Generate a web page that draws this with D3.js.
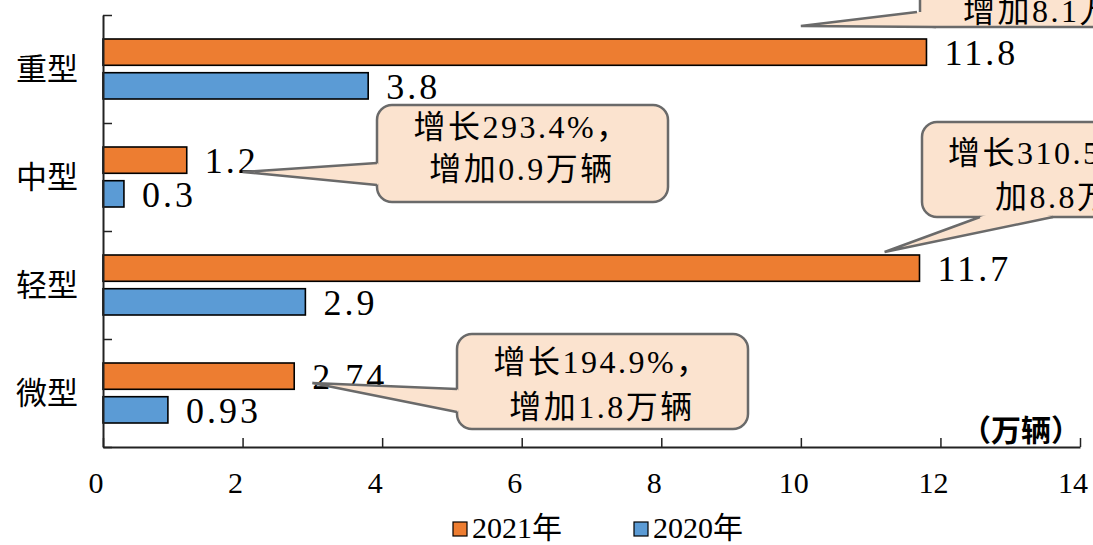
<!DOCTYPE html>
<html>
<head>
<meta charset="utf-8">
<script src="https://cdn.jsdelivr.net/npm/d3@7"></script>
<style>
  body { margin: 0; background: #fff; overflow: hidden; }
</style>
</head>
<body>
<div id="chart"></div>
<script>
// data
const categories = ["重型", "中型", "轻型", "微型"];
const seriesNames = ["2021年", "2020年"];
const values2021 = [11.8, 1.2, 11.7, 2.74];
const values2020 = [3.8, 0.3, 2.9, 0.93];
const labels2021 = ["11.8", "1.2", "11.7", "2.74"];
const labels2020 = ["3.8", "0.3", "2.9", "0.93"];
const xTicks = [0, 2, 4, 6, 8, 10, 12, 14];
const unitLabel = "（万辆）";
const calloutCats = ["重型", "中型", "轻型", "微型"];
const calloutLines = [
  ["增加8.1万辆"],
  ["增长293.4%，", "增加0.9万辆"],
  ["增长310.5%，增", "加8.8万辆"],
  ["增长194.9%，", "增加1.8万辆"]
];

const W = 1093, H = 545;
const colors = { "2021年": "#ED7D31", "2020年": "#5B9BD5" };
const numFont = "'Liberation Serif', 'Noto Sans CJK SC', serif";
const cjkFont = "'Noto Sans CJK SC', sans-serif";

const svg = d3.select("#chart").append("svg")
  .attr("width", W)
  .attr("height", H)
  .style("display", "block");

svg.append("rect").attr("width", W).attr("height", H).attr("fill", "#fff");

let x = d3.scaleLinear().domain([0, 14]).range([103, 1080]);
let y = d3.scaleBand().domain(categories).range([15, 447]);
let ySub = d3.scaleBand().domain(seriesNames).range([24, 84]).paddingInner(0.22);
let yEdge = d3.scaleLinear().domain([0, categories.length]).range([15, 447]);

const rows = categories.map((c, i) => ({
  cat: c,
  bars: [
    { s: "2021年", v: values2021[i], label: labels2021[i] },
    { s: "2020年", v: values2020[i], label: labels2020[i] }
  ]
}));

// bars
const g = svg.selectAll(".row")
  .data(rows)
  .enter().append("g")
  .attr("class", "row")
  .attr("transform", d => `translate(0,${y(d.cat)})`);

g.selectAll("rect")
  .data(d => d.bars)
  .enter().append("rect")
  .attr("x", x(0))
  .attr("y", d => ySub(d.s))
  .attr("width", d => x(d.v) - x(0))
  .attr("height", ySub.bandwidth())
  .attr("fill", d => colors[d.s])
  .attr("stroke", "#000")
  .attr("stroke-width", 1.6);

g.selectAll("text.val")
  .data(d => d.bars)
  .enter().append("text")
  .attr("class", "val")
  .attr("x", d => x(d.v) + 18)
  .attr("y", d => ySub(d.s) + ySub.bandwidth() / 2 + 13)
  .attr("font-family", numFont)
  .attr("font-size", 36)
  .attr("letter-spacing", 3)
  .attr("fill", "#000")
  .text(d => d.label);

// category labels
svg.selectAll(".cat")
  .data(categories)
  .enter().append("text")
  .attr("class", "cat")
  .attr("x", 47)
  .attr("y", d => y(d) + y.bandwidth() / 2 + 11)
  .attr("text-anchor", "middle")
  .attr("font-family", cjkFont)
  .attr("font-size", 31)
  .attr("fill", "#000")
  .text(d => d);

// y axis (ticks between categories, pointing inward)
const yAxis = d3.axisRight(yEdge).ticks(categories.length).tickSize(9).tickSizeOuter(0).tickFormat("");
const ya = svg.append("g")
  .attr("transform", `translate(${x(0)},0)`)
  .call(yAxis);
ya.select(".domain").attr("stroke", "#222").attr("stroke-width", 2);
ya.selectAll(".tick line").attr("stroke", "#222").attr("stroke-width", 1.5);

// x axis
const xAxis = d3.axisTop(x).tickValues(xTicks).tickSize(9).tickSizeOuter(0).tickFormat("");
const xa = svg.append("g")
  .attr("transform", `translate(0,${yEdge(categories.length)})`)
  .call(xAxis);
xa.select(".domain").attr("stroke", "#222").attr("stroke-width", 2);
xa.selectAll(".tick line").attr("stroke", "#222").attr("stroke-width", 1.5);

svg.selectAll(".xt")
  .data(xTicks)
  .enter().append("text")
  .attr("class", "xt")
  .attr("x", d => x(d) - 7)
  .attr("y", 493)
  .attr("text-anchor", "middle")
  .attr("font-family", numFont)
  .attr("font-size", 30)
  .attr("fill", "#000")
  .text(d => d);

// unit label
svg.append("text")
  .attr("x", 1021)
  .attr("y", 441)
  .attr("text-anchor", "middle")
  .attr("font-family", cjkFont)
  .attr("font-size", 30)
  .attr("font-weight", "bold")
  .attr("fill", "#000")
  .text(unitLabel);

// callouts (boxes in px, tips in data space)
const calloutLayout = [
  { box: [920, -70, 1300, 27], tip: [10.0, 11], base: [[917, 12], [936, 27]], inner: [936, 12], lx: [963], ly: [22], anchor: "start" },
  { box: [377, 105, 668, 202], tip: [2.0, 49], base: [[377, 163], [377, 185]], inner: [390, 174], lx: [522, 522], ly: [138, 180], anchor: "middle" },
  { box: [922, 122, 1300, 217], tip: [11.2, 21], base: [[980, 217], [1053, 217]], inner: [1016, 205], lx: [948, 995], ly: [164, 208], anchor: "start" },
  { box: [457, 334, 748, 429], tip: [3.0, 44], base: [[457, 389], [457, 412]], inner: [470, 400], lx: [602, 602], ly: [373, 418], anchor: "middle" }
];

const fill = "#FBE3CF", edge = "#6A6A6A";
calloutLayout.forEach((c, i) => {
  const tip = [x(c.tip[0]), y(calloutCats[i]) + c.tip[1]];
  const cg = svg.append("g");
  const [x0, y0, x1, y1] = c.box;
  cg.append("rect")
    .attr("x", x0).attr("y", y0)
    .attr("width", x1 - x0).attr("height", y1 - y0)
    .attr("rx", 15).attr("ry", 15)
    .attr("fill", fill)
    .attr("stroke", edge)
    .attr("stroke-width", 2.5);
  cg.append("path")
    .attr("d", d3.line()([tip, c.base[0], c.inner, c.base[1]]) + "Z")
    .attr("fill", fill)
    .attr("stroke", "none");
  cg.append("path")
    .attr("d", d3.line()([c.base[0], tip, c.base[1]]))
    .attr("fill", "none")
    .attr("stroke", edge)
    .attr("stroke-width", 2.5)
    .attr("stroke-linejoin", "miter");
  calloutLines[i].forEach((t, j) => {
    cg.append("text")
      .attr("x", c.lx[j])
      .attr("y", c.ly[j])
      .attr("text-anchor", c.anchor)
      .attr("font-family", numFont)
      .attr("font-size", 32)
      .attr("letter-spacing", 2.5)
      .attr("fill", "#000")
      .text(t);
  });
});

// legend
const legendX = [453, 634];
const lg = svg.selectAll(".lg")
  .data(seriesNames)
  .enter().append("g")
  .attr("class", "lg")
  .attr("transform", (d, i) => `translate(${legendX[i]},522)`);
lg.append("rect")
  .attr("width", 14).attr("height", 14)
  .attr("fill", d => colors[d])
  .attr("stroke", "#000")
  .attr("stroke-width", 1.2);
lg.append("text")
  .attr("x", 19)
  .attr("y", 16)
  .attr("font-family", numFont)
  .attr("font-size", 30)
  .attr("fill", "#000")
  .text(d => d);
</script>
</body>
</html>
